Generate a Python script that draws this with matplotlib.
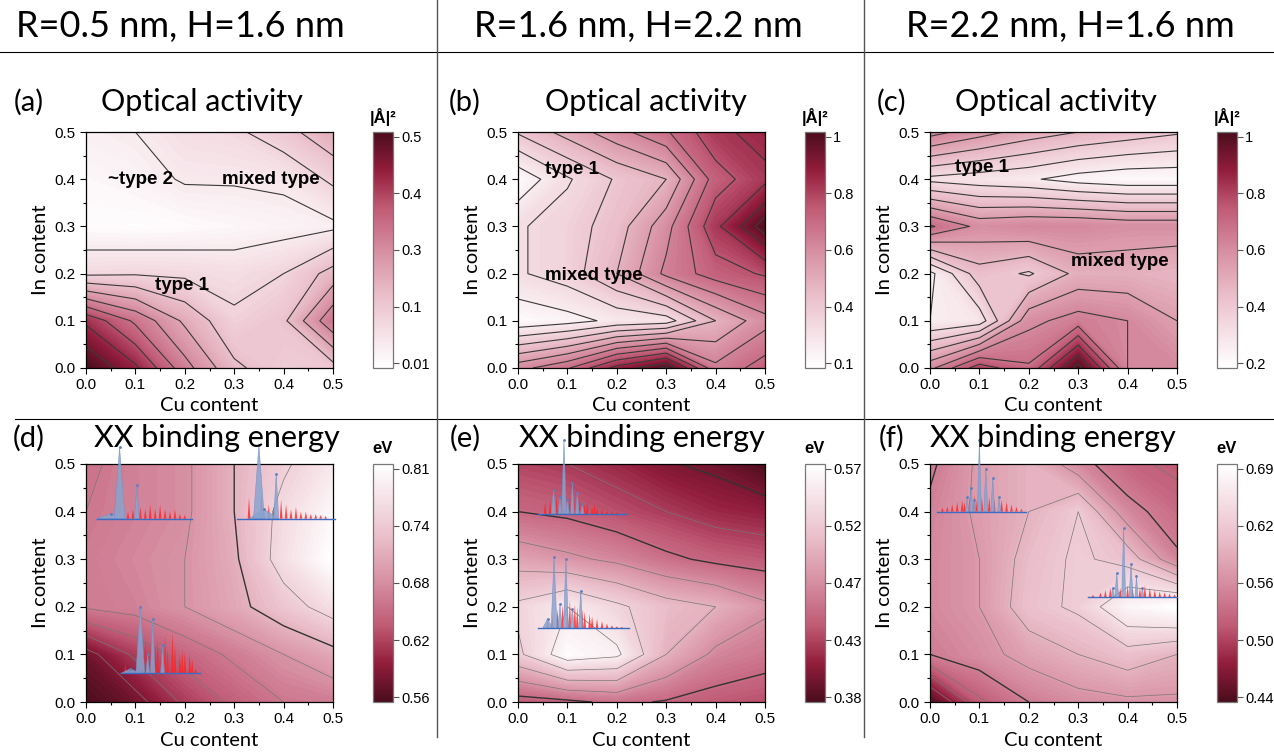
import numpy as np
import matplotlib
matplotlib.use("Agg")
import matplotlib.pyplot as plt
from matplotlib.colors import LinearSegmentedColormap, Normalize
from matplotlib.cm import ScalarMappable
from matplotlib.lines import Line2D

plt.rcParams['font.family'] = ['Liberation Sans', 'DejaVu Sans']

#############################
# Data (6x6 grids, rows from In=0.5 at top down to In=0.0)
#############################
cu = [0.0, 0.1, 0.2, 0.3, 0.4, 0.5]
inn = [0.0, 0.1, 0.2, 0.3, 0.4, 0.5]

headers = ["R=0.5 nm, H=1.6 nm", "R=1.6 nm, H=2.2 nm", "R=2.2 nm, H=1.6 nm"]

# optical activity |A|^2
oa_a = [[0.05, 0.06, 0.09, 0.10, 0.14, 0.20],
        [0.03, 0.04, 0.065, 0.065, 0.07, 0.12],
        [0.02, 0.015, 0.02, 0.03, 0.04, 0.05],
        [0.10, 0.105, 0.10, 0.09, 0.11, 0.18],
        [0.40, 0.30, 0.20, 0.12, 0.15, 0.30],
        [0.51, 0.42, 0.28, 0.17, 0.13, 0.14]]
oa_b = [[0.35, 0.45, 0.55, 0.65, 0.80, 0.85],
        [0.12, 0.25, 0.35, 0.42, 0.70, 0.80],
        [0.25, 0.30, 0.38, 0.55, 0.80, 1.00],
        [0.25, 0.30, 0.42, 0.60, 0.70, 0.75],
        [0.12, 0.15, 0.20, 0.22, 0.42, 0.55],
        [0.55, 0.65, 0.85, 0.98, 0.60, 0.70]]
oa_c = [[0.65, 0.58, 0.52, 0.48, 0.45, 0.42],
        [0.32, 0.30, 0.28, 0.24, 0.22, 0.22],
        [0.70, 0.60, 0.62, 0.62, 0.60, 0.60],
        [0.25, 0.45, 0.40, 0.50, 0.50, 0.48],
        [0.27, 0.30, 0.60, 0.65, 0.62, 0.55],
        [0.60, 0.80, 0.70, 1.00, 0.62, 0.62]]

# XX binding energy (eV)
be_d = [[0.66, 0.675, 0.685, 0.72, 0.75, 0.78],
        [0.665, 0.675, 0.685, 0.72, 0.765, 0.80],
        [0.67, 0.68, 0.69, 0.715, 0.77, 0.81],
        [0.668, 0.675, 0.69, 0.71, 0.74, 0.77],
        [0.58, 0.62, 0.65, 0.67, 0.69, 0.71],
        [0.56, 0.58, 0.62, 0.645, 0.665, 0.67]]
be_e = [[0.43, 0.425, 0.415, 0.402, 0.395, 0.38],
        [0.45, 0.445, 0.435, 0.425, 0.415, 0.41],
        [0.49, 0.48, 0.47, 0.455, 0.445, 0.44],
        [0.53, 0.55, 0.53, 0.51, 0.50, 0.48],
        [0.52, 0.565, 0.555, 0.50, 0.47, 0.46],
        [0.44, 0.445, 0.455, 0.448, 0.44, 0.435]]
be_f = [[0.545, 0.58, 0.60, 0.56, 0.53, 0.52],
        [0.555, 0.58, 0.60, 0.625, 0.56, 0.535],
        [0.56, 0.575, 0.61, 0.63, 0.615, 0.555],
        [0.56, 0.575, 0.615, 0.63, 0.675, 0.69],
        [0.55, 0.565, 0.585, 0.60, 0.615, 0.60],
        [0.44, 0.52, 0.55, 0.565, 0.57, 0.57]]

# colour bar ranges and tick labels (bottom -> top)
cb_ranges = [(0.01, 0.51), (0.1, 1.02), (0.2, 1.02),
             (0.56, 0.81), (0.38, 0.57), (0.44, 0.69)]
cb_labels = [["0.01", "0.1", "0.3", "0.4", "0.5"],
             ["0.1", "0.4", "0.6", "0.8", "1"],
             ["0.2", "0.4", "0.6", "0.8", "1"],
             ["0.56", "0.62", "0.68", "0.74", "0.81"],
             ["0.38", "0.43", "0.47", "0.52", "0.57"],
             ["0.44", "0.50", "0.56", "0.62", "0.69"]]

# contour line levels: (thick, thin)
line_levels = [([0.06, 0.11, 0.16, 0.21, 0.26, 0.31, 0.36, 0.41, 0.46], []),
               ([0.18, 0.26, 0.34, 0.42, 0.50, 0.58, 0.66, 0.74, 0.82, 0.90, 0.96], []),
               ([0.27, 0.34, 0.41, 0.48, 0.55, 0.62, 0.69, 0.76, 0.83, 0.90, 0.97], []),
               ([0.72], [0.59, 0.615, 0.64, 0.665, 0.69, 0.755]),
               ([0.40, 0.45], [0.425, 0.475, 0.50, 0.525, 0.55]),
               ([0.55], [0.475, 0.50, 0.525, 0.575, 0.60, 0.625, 0.65])]

# annotations: (text, x, y)
notes_a = [("~type 2", 0.045, 0.40), ("mixed type", 0.275, 0.40), ("type 1", 0.14, 0.175)]
notes_b = [("type 1", 0.055, 0.42), ("mixed type", 0.055, 0.195)]
notes_c = [("type 1", 0.05, 0.425), ("mixed type", 0.285, 0.225)]

# inset spectra: baseline, x start, x end; blue peaks (pos, height, half width); red peaks (pos, height)
spec_d1 = (0.385, 0.023, 0.215)
spec_d1_blue = [(0.05, 0.010, 0.030), (0.068, 0.150, 0.011), (0.103, 0.070, 0.005)]
spec_d1_red = [(0.085, 0.015), (0.095, 0.02), (0.11, 0.025), (0.12, 0.02), (0.13, 0.03), (0.14, 0.02),
               (0.15, 0.03), (0.16, 0.02), (0.17, 0.015), (0.18, 0.02), (0.19, 0.01), (0.2, 0.008)]
spec_d2 = (0.385, 0.305, 0.505)
spec_d2_blue = [(0.36, 0.02, 0.03), (0.35, 0.155, 0.011), (0.385, 0.095, 0.005)]
spec_d2_red = [(0.33, 0.045), (0.355, 0.06), (0.37, 0.03), (0.38, 0.025), (0.395, 0.04), (0.405, 0.03),
               (0.415, 0.02), (0.425, 0.025), (0.435, 0.015), (0.445, 0.015), (0.455, 0.01),
               (0.465, 0.01), (0.475, 0.008), (0.485, 0.006)]
spec_d3 = (0.06, 0.073, 0.23)
spec_d3_blue = [(0.09, 0.01, 0.02), (0.11, 0.14, 0.009), (0.125, 0.04, 0.004),
                (0.135, 0.115, 0.005), (0.155, 0.06, 0.004)]
spec_d3_red = [(0.08, 0.02), (0.12, 0.07), (0.13, 0.05), (0.14, 0.06), (0.145, 0.07), (0.16, 0.08),
               (0.165, 0.05), (0.175, 0.09), (0.18, 0.06), (0.19, 0.04), (0.195, 0.05), (0.2, 0.045),
               (0.21, 0.04), (0.215, 0.03), (0.222, 0.01)]
spec_e1 = (0.395, 0.04, 0.22)
spec_e1_blue = [(0.072, 0.05, 0.005), (0.085, 0.035, 0.004), (0.093, 0.155, 0.005), (0.1, 0.03, 0.004),
                (0.11, 0.065, 0.004), (0.12, 0.045, 0.004), (0.13, 0.02, 0.004)]
spec_e1_red = [(0.055, 0.025), (0.065, 0.03), (0.078, 0.035), (0.09, 0.03), (0.105, 0.035), (0.115, 0.025),
               (0.125, 0.03), (0.135, 0.02), (0.14, 0.025), (0.15, 0.015), (0.155, 0.02), (0.16, 0.012),
               (0.17, 0.01), (0.18, 0.006), (0.19, 0.005), (0.2, 0.004)]
spec_e2 = (0.155, 0.04, 0.225)
spec_e2_blue = [(0.06, 0.02, 0.01), (0.073, 0.15, 0.006), (0.085, 0.05, 0.004), (0.097, 0.145, 0.005),
                (0.11, 0.04, 0.004), (0.127, 0.078, 0.004)]
spec_e2_red = [(0.06, 0.015), (0.07, 0.03), (0.08, 0.04), (0.09, 0.05), (0.1, 0.045), (0.105, 0.06),
               (0.115, 0.05), (0.12, 0.045), (0.13, 0.04), (0.135, 0.035), (0.145, 0.03), (0.15, 0.025),
               (0.16, 0.02), (0.17, 0.015), (0.18, 0.01), (0.19, 0.006), (0.2, 0.004), (0.21, 0.003)]
spec_f1 = (0.40, 0.015, 0.195)
spec_f1_blue = [(0.075, 0.03, 0.003), (0.083, 0.05, 0.004), (0.09, 0.025, 0.003), (0.1, 0.15, 0.004),
                (0.113, 0.09, 0.004), (0.127, 0.07, 0.004), (0.14, 0.03, 0.003)]
spec_f1_red = [(0.025, 0.008), (0.035, 0.01), (0.045, 0.015), (0.055, 0.02), (0.065, 0.025), (0.07, 0.02),
               (0.08, 0.03), (0.09, 0.035), (0.095, 0.025), (0.105, 0.03), (0.12, 0.03), (0.13, 0.025),
               (0.145, 0.025), (0.155, 0.02), (0.165, 0.015), (0.175, 0.01), (0.185, 0.006)]
spec_f2 = (0.22, 0.32, 0.50)
spec_f2_blue = [(0.37, 0.02, 0.003), (0.378, 0.05, 0.004), (0.392, 0.145, 0.004), (0.407, 0.07, 0.004),
                (0.418, 0.045, 0.003), (0.43, 0.02, 0.003)]
spec_f2_red = [(0.33, 0.005), (0.345, 0.01), (0.355, 0.015), (0.365, 0.02), (0.385, 0.02), (0.4, 0.025),
               (0.41, 0.02), (0.425, 0.02), (0.435, 0.025), (0.445, 0.02), (0.455, 0.015), (0.465, 0.012),
               (0.475, 0.01), (0.485, 0.008), (0.495, 0.006)]

#############################
# Layout helpers (pixel positions)
#############################
W, H = 1274, 752
cols_x = [(86, 333), (518, 765), (930, 1177)]
cbar_x = [(373, 393), (805, 825), (1217, 1237)]
rows_y = [(132, 368), (464, 702)]
header_x = [180, 638, 1070]
tag_x = [29, 465, 892]
title_x = [[202, 646, 1056], [217, 642, 1053]]
title_y = [102, 438]


def rect(x0, x1, y0, y1):
    return [x0 / W, 1 - y1 / H, (x1 - x0) / W, (y1 - y0) / H]


cmap = LinearSegmentedColormap.from_list(
    "oa", [(0.0, "#ffffff"), (0.15, "#f5e0e6"), (0.3, "#ebc0cc"), (0.5, "#d68da1"),
           (0.68, "#c05a75"), (0.84, "#921c3c"), (1.0, "#4a0d1c")])
cmap_r = cmap.reversed()


def draw_spectrum(ax, spec, blue, red):
    base, xs, xe = spec
    for pos, h in red:
        ax.fill([pos - 0.0028, pos, pos + 0.0028], [base, base + h, base], color="#ff2424",
                alpha=0.8, lw=0, clip_on=False, zorder=4)
    for pos, h, hw in blue:
        ax.fill([pos - hw, pos, pos + hw], [base, base + h, base], facecolor="#8aa4cf",
                edgecolor="#7090c4", lw=0.4, alpha=0.85, clip_on=False, zorder=5)
        ax.plot(pos, base + h, marker=".", ms=2, color="#5a7fbf", clip_on=False, zorder=6)
    ax.plot([xs, xe], [base, base], color="#3b6cc4", lw=1, clip_on=False, zorder=6)


#############################
# Figure
#############################
fig = plt.figure(figsize=(W / 100, H / 100), dpi=100)

grids = [oa_a, oa_b, oa_c, be_d, be_e, be_f]
tags = ["(a)", "(b)", "(c)", "(d)", "(e)", "(f)"]
notes = [notes_a, notes_b, notes_c]
spectra = [[], [], [],
           [(spec_d1, spec_d1_blue, spec_d1_red), (spec_d2, spec_d2_blue, spec_d2_red),
            (spec_d3, spec_d3_blue, spec_d3_red)],
           [(spec_e1, spec_e1_blue, spec_e1_red), (spec_e2, spec_e2_blue, spec_e2_red)],
           [(spec_f1, spec_f1_blue, spec_f1_red), (spec_f2, spec_f2_blue, spec_f2_red)]]
X, Y = np.meshgrid(cu, inn)
tick_frac = [0.021, 0.26, 0.5, 0.74, 0.979]

for k in range(6):
    r, c = divmod(k, 3)
    Z = np.flipud(np.array(grids[k]))
    vmin, vmax = cb_ranges[k]
    cm = cmap if r == 0 else cmap_r

    ax = fig.add_axes(rect(cols_x[c][0], cols_x[c][1], rows_y[r][0], rows_y[r][1]))
    cs = ax.contourf(X, Y, Z, levels=np.linspace(vmin, vmax, 70), cmap=cm, extend="both")
    cs.set_edgecolor("face")
    thick, thin = line_levels[k]
    if r == 0:
        ax.contour(X, Y, Z, levels=thick, colors="#3a3a3a", linewidths=0.8)
    else:
        ax.contour(X, Y, Z, levels=thick, colors="#333333", linewidths=1.0)
        if thin:
            ax.contour(X, Y, Z, levels=thin, colors="#777777", linewidths=0.5)

    ax.set_xlim(0, 0.5)
    ax.set_ylim(0, 0.5)
    ax.set_xticks(cu)
    ax.set_yticks(inn)
    ax.set_xticks(np.arange(0.05, 0.5, 0.1), minor=True)
    ax.set_yticks(np.arange(0.05, 0.5, 0.1), minor=True)
    ax.xaxis.set_major_formatter(matplotlib.ticker.FormatStrFormatter("%.1f"))
    ax.yaxis.set_major_formatter(matplotlib.ticker.FormatStrFormatter("%.1f"))
    ax.tick_params(which="both", direction="out", labelsize=11, width=0.8)
    ax.tick_params(which="major", length=4)
    ax.tick_params(which="minor", length=2.5)
    ax.set_xlabel("Cu content", family="Lato", fontsize=14.5)
    ax.set_ylabel("In content", family="Lato", fontsize=14.5)
    ax.xaxis.set_label_coords(0.5, -0.125)
    ax.yaxis.set_label_coords(-0.15, 0.5)
    for sp in ax.spines.values():
        sp.set_linewidth(0.9)

    if r == 0:
        for txt, x, y in notes[c]:
            ax.text(x, y, txt, fontsize=13.5, fontweight="bold", va="center", ha="left", zorder=7)
    for spec, blue, red in spectra[k]:
        draw_spectrum(ax, spec, blue, red)

    # colour bar
    cax = fig.add_axes(rect(cbar_x[c][0], cbar_x[c][1], rows_y[r][0], rows_y[r][1]))
    cb = fig.colorbar(ScalarMappable(Normalize(vmin, vmax), cm), cax=cax)
    cb.set_ticks([vmin + f * (vmax - vmin) for f in tick_frac])
    cb.set_ticklabels(cb_labels[k])
    cb.ax.tick_params(labelsize=10.5, length=4, width=0.8, pad=2, color="#555555")
    cb.outline.set_edgecolor("#777777")
    cb.outline.set_linewidth(0.9)
    fig.text((cbar_x[c][0] + cbar_x[c][1]) / 2 / W, 1 - (rows_y[r][0] - 15) / H,
             "|Å|²" if r == 0 else "eV", ha="center", va="center", fontsize=12, fontweight="bold")

    # panel tag and title
    ty = 1 - title_y[r] / H
    fig.text(tag_x[c] / W, ty, tags[k], ha="center", va="center", family="Lato", fontsize=21)
    fig.text(title_x[r][c] / W, ty, "Optical activity" if r == 0 else "XX binding energy",
             ha="center", va="center", family="Lato", fontsize=22)

# column headers and separators
for c in range(3):
    fig.text(header_x[c] / W, 1 - 27 / H, headers[c], ha="center", va="center",
             family="Lato", fontsize=26)
fig.add_artist(Line2D([0, 1], [1 - 52 / H] * 2, transform=fig.transFigure, color="k", lw=0.8))
fig.add_artist(Line2D([15 / W, 1], [1 - 419 / H] * 2, transform=fig.transFigure, color="k", lw=0.8))
for xv in [437, 864]:
    fig.add_artist(Line2D([xv / W] * 2, [1 - 737 / H, 1], transform=fig.transFigure,
                          color="#555555", lw=1.0))

fig.savefig("out.png", dpi=100)
